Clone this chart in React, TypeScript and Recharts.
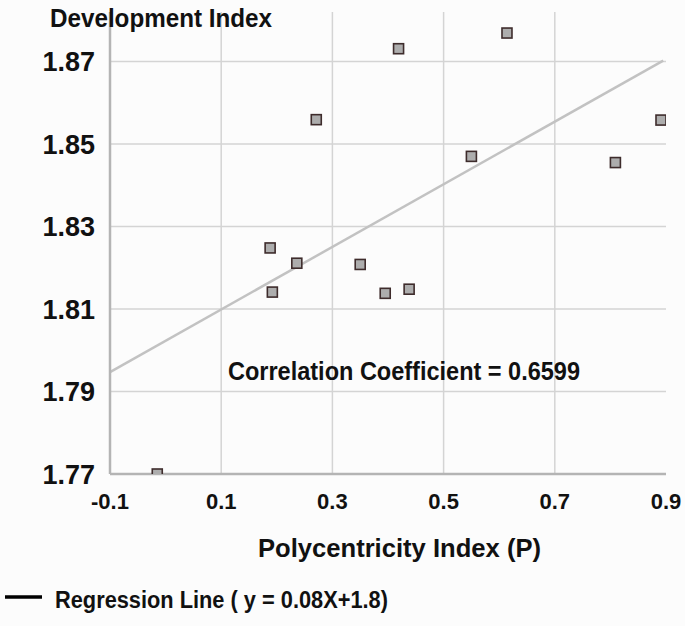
import React from 'react';
import { ScatterChart, Scatter, XAxis, YAxis, ReferenceLine } from 'recharts';

const pointX = [-0.015, 0.188, 0.192, 0.236, 0.271, 0.35, 0.395, 0.419, 0.438, 0.55, 0.614, 0.809, 0.891];
const pointY = [1.77, 1.8248, 1.8141, 1.8211, 1.8559, 1.8208, 1.8138, 1.8731, 1.8148, 1.847, 1.8769, 1.8455, 1.8558];
const regressionX = [-0.1, 0.895];
const regressionY = [1.7947, 1.8702];
const xTicks = [-0.1, 0.1, 0.3, 0.5, 0.7, 0.9];
const yTicks = [1.77, 1.79, 1.81, 1.83, 1.85, 1.87];
const xGrid = [0.1, 0.3, 0.5, 0.7];
const yGrid = [1.79, 1.81, 1.83, 1.85, 1.87];

const points = pointX.map((x, i) => ({ x, y: pointY[i] }));
const segment = regressionX.map((x, i) => ({ x, y: regressionY[i] }));

const FONT = '"Liberation Sans", Arial, Helvetica, sans-serif';

const Marker = (props: any) => {
  const { cx, cy } = props;
  if (cx == null || cy == null) return <g />;
  return (
    <rect x={cx - 5} y={cy - 5} width={10} height={10} fill="#adadad" stroke="#3e2c2c" strokeWidth={1.6} />
  );
};

export default function App() {
  return (
    <div style={{ position: 'absolute', left: 0, top: 0, width: 685, height: 626, background: '#fcfcfc' }}>
      <ScatterChart width={685} height={626} margin={{ top: 12, right: 19, bottom: 92, left: 0 }}>
        <XAxis
          type="number"
          dataKey="x"
          domain={[-0.1, 0.9]}
          ticks={xTicks}
          allowDataOverflow
          tickFormatter={(v: number) => v.toFixed(1)}
          tickLine={false}
          tickSize={0}
          tickMargin={19}
          height={60}
          axisLine={{ stroke: '#b4b4b4', strokeWidth: 2.5 }}
          tick={{ fill: '#111', fontSize: 22, fontWeight: 700, fontFamily: FONT }}
        />
        <YAxis
          type="number"
          dataKey="y"
          domain={[1.77, 1.882]}
          ticks={yTicks}
          allowDataOverflow
          tickFormatter={(v: number) => v.toFixed(2)}
          tickLine={false}
          tickSize={0}
          tickMargin={15}
          width={110}
          axisLine={{ stroke: '#b4b4b4', strokeWidth: 2.5 }}
          tick={{ fill: '#111', fontSize: 27, fontWeight: 700, fontFamily: FONT }}
        />
        {yGrid.map((v) => (
          <ReferenceLine key={'h' + v} y={v} stroke="#d4d4d4" strokeWidth={1.5} />
        ))}
        {xGrid.map((v) => (
          <ReferenceLine key={'v' + v} x={v} stroke="#d4d4d4" strokeWidth={1.5} />
        ))}
        <ReferenceLine segment={segment} stroke="#c2c2c2" strokeWidth={2.5} />
        <Scatter data={points} shape={<Marker />} isAnimationActive={false} />
      </ScatterChart>
      <svg
        width={685}
        height={626}
        style={{ position: 'absolute', left: 0, top: 0, pointerEvents: 'none' }}
      >
        <g fontFamily={FONT} fontWeight={700} fill="#111">
          <text x={50} y={27} fontSize={25} textLength={222} lengthAdjust="spacingAndGlyphs">
            Development Index
          </text>
          <text x={228} y={380} fontSize={25} textLength={352} lengthAdjust="spacingAndGlyphs">
            Correlation Coefficient = 0.6599
          </text>
          <text x={258} y={557} fontSize={26} textLength={283} lengthAdjust="spacingAndGlyphs">
            Polycentricity Index (P)
          </text>
          <line x1={5} x2={42} y1={597} y2={597} stroke="#000" strokeWidth={3.5} />
          <text x={55} y={608} fontSize={23} textLength={333} lengthAdjust="spacingAndGlyphs">
            Regression Line ( y = 0.08X+1.8)
          </text>
        </g>
      </svg>
    </div>
  );
}
